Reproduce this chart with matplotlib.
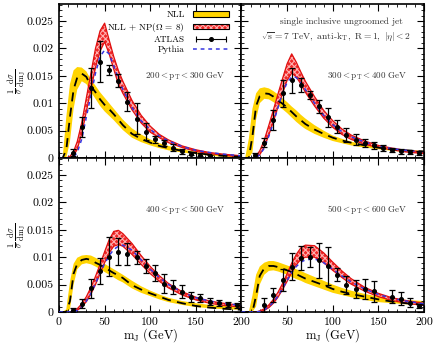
import numpy as np
import matplotlib
matplotlib.use('Agg')
import matplotlib.pyplot as plt
from matplotlib.patches import Patch
from matplotlib.lines import Line2D
from matplotlib.legend_handler import HandlerTuple, HandlerLine2D
from matplotlib.ticker import MultipleLocator, FixedLocator, FuncFormatter

plt.rcParams['font.family'] = 'serif'
plt.rcParams['font.serif'] = ['cmr10', 'DejaVu Serif']
plt.rcParams['mathtext.fontset'] = 'cm'
plt.rcParams['axes.formatter.use_mathtext'] = True
plt.rcParams['hatch.color'] = '#ffb0b0'
plt.rcParams['hatch.linewidth'] = 0.8

# ---------------- data ----------------
mj = [0, 4, 8, 12, 16, 20, 25, 30, 35, 40, 45, 50, 55, 60, 65, 70, 80, 90, 100, 110, 120, 135, 150, 165, 180, 200]

# panel 1: 200 < pT < 300 GeV
nll_hi_1 = [0, 0, 0.0075, 0.0135, 0.0160, 0.0166, 0.0165, 0.0158, 0.0143, 0.0132, 0.0120, 0.0110, 0.0100, 0.0090, 0.0080, 0.0070, 0.0054, 0.0043, 0.0034, 0.0027, 0.0022, 0.0016, 0.0011, 0.0008, 0.0006, 0.0003]
nll_c_1 = [0, 0, 0.0015, 0.0075, 0.0125, 0.0147, 0.0154, 0.0148, 0.0131, 0.0120, 0.0107, 0.0097, 0.0089, 0.0080, 0.0070, 0.0060, 0.0044, 0.0035, 0.0028, 0.0022, 0.0018, 0.0013, 0.0009, 0.0006, 0.0004, 0.0002]
nll_lo_1 = [0, 0, 0, 0.0030, 0.0090, 0.0125, 0.0140, 0.0135, 0.0120, 0.0108, 0.0095, 0.0085, 0.0077, 0.0069, 0.0060, 0.0051, 0.0037, 0.0029, 0.0023, 0.0018, 0.0014, 0.0010, 0.0007, 0.0004, 0.0002, 0.0001]
np_hi_1 = [0, 0, 0, 0.0003, 0.0012, 0.0030, 0.0065, 0.0110, 0.0155, 0.0200, 0.0232, 0.0246, 0.0215, 0.0185, 0.0160, 0.0140, 0.0105, 0.0078, 0.0058, 0.0043, 0.0033, 0.0022, 0.0015, 0.0010, 0.0007, 0.0004]
np_lo_1 = [0, 0, 0, 0, 0.0004, 0.0016, 0.0045, 0.0085, 0.0125, 0.0165, 0.0195, 0.0212, 0.0190, 0.0162, 0.0135, 0.0118, 0.0088, 0.0064, 0.0047, 0.0037, 0.0028, 0.0019, 0.0012, 0.0008, 0.0005, 0.0002]
py_1 = [0, 0, 0, 0, 0.0002, 0.0010, 0.0035, 0.0075, 0.0115, 0.0155, 0.0185, 0.0197, 0.0190, 0.0168, 0.0145, 0.0125, 0.0092, 0.0068, 0.0052, 0.0040, 0.0031, 0.0021, 0.0014, 0.0010, 0.0007, 0.0004]
atlas_x_1 = [15, 25, 35, 45, 55, 65, 75, 85, 95, 105, 115, 125, 135, 145, 155, 165]
atlas_y_1 = [0.0010, 0.0057, 0.0128, 0.0176, 0.0160, 0.0141, 0.0103, 0.0072, 0.0048, 0.0034, 0.0027, 0.0019, 0.0012, 0.0008, 0.0006, 0.0004]
atlas_e_1 = [0.0007, 0.0018, 0.0036, 0.0038, 0.0009, 0.0012, 0.0018, 0.0028, 0.0015, 0.0007, 0.0006, 0.0006, 0.0004, 0.0003, 0.0003, 0.0002]

# panel 2: 300 < pT < 400 GeV
nll_hi_2 = [0, 0, 0.0035, 0.0090, 0.0118, 0.0127, 0.0129, 0.0127, 0.0122, 0.0116, 0.0109, 0.0102, 0.0094, 0.0087, 0.0079, 0.0072, 0.0060, 0.0050, 0.0041, 0.0035, 0.0030, 0.0024, 0.0020, 0.0017, 0.0015, 0.0013]
nll_c_2 = [0, 0, 0, 0.0040, 0.0095, 0.0113, 0.0118, 0.0117, 0.0112, 0.0105, 0.0099, 0.0092, 0.0084, 0.0076, 0.0069, 0.0062, 0.0052, 0.0044, 0.0037, 0.0032, 0.0028, 0.0023, 0.0019, 0.0016, 0.0014, 0.0012]
nll_lo_2 = [0, 0, 0, 0.0010, 0.0070, 0.0100, 0.0108, 0.0107, 0.0102, 0.0096, 0.0089, 0.0082, 0.0074, 0.0066, 0.0059, 0.0053, 0.0044, 0.0037, 0.0031, 0.0027, 0.0023, 0.0019, 0.0016, 0.0013, 0.0011, 0.0010]
np_hi_2 = [0, 0, 0, 0, 0.0004, 0.0013, 0.0033, 0.0060, 0.0088, 0.0117, 0.0145, 0.0172, 0.0190, 0.0175, 0.0157, 0.0140, 0.0112, 0.0087, 0.0068, 0.0053, 0.0042, 0.0031, 0.0023, 0.0018, 0.0014, 0.0011]
np_lo_2 = [0, 0, 0, 0, 0.0001, 0.0006, 0.0020, 0.0042, 0.0067, 0.0093, 0.0118, 0.0142, 0.0155, 0.0148, 0.0135, 0.0120, 0.0095, 0.0073, 0.0056, 0.0043, 0.0034, 0.0025, 0.0019, 0.0015, 0.0011, 0.0008]
py_2 = [0, 0, 0, 0, 0.0001, 0.0006, 0.0018, 0.0040, 0.0065, 0.0092, 0.0118, 0.0138, 0.0148, 0.0147, 0.0137, 0.0125, 0.0100, 0.0078, 0.0061, 0.0048, 0.0039, 0.0029, 0.0022, 0.0017, 0.0014, 0.0011]
atlas_x_2 = [15, 25, 35, 45, 55, 65, 75, 85, 95, 105, 115, 125, 135, 145, 155, 165, 175, 185, 195]
atlas_y_2 = [0.0005, 0.0028, 0.0069, 0.0118, 0.0142, 0.0133, 0.0115, 0.0094, 0.0074, 0.0057, 0.0042, 0.0033, 0.0027, 0.0023, 0.0018, 0.0015, 0.0012, 0.0011, 0.0009]
atlas_e_2 = [0.0004, 0.0008, 0.0018, 0.0025, 0.0023, 0.0013, 0.0008, 0.0012, 0.0018, 0.0012, 0.0012, 0.0010, 0.0007, 0.0007, 0.0005, 0.0004, 0.0004, 0.0004, 0.0003]

# panel 3: 400 < pT < 500 GeV
nll_hi_3 = [0, 0, 0.0005, 0.0055, 0.0088, 0.0099, 0.0103, 0.0104, 0.0103, 0.0099, 0.0094, 0.0088, 0.0083, 0.0078, 0.0073, 0.0068, 0.0057, 0.0047, 0.0039, 0.0032, 0.0026, 0.0020, 0.0016, 0.0013, 0.0011, 0.0010]
nll_c_3 = [0, 0, 0, 0.0020, 0.0070, 0.0088, 0.0095, 0.0097, 0.0095, 0.0090, 0.0086, 0.0081, 0.0076, 0.0071, 0.0067, 0.0062, 0.0049, 0.0041, 0.0034, 0.0028, 0.0022, 0.0016, 0.0011, 0.0008, 0.0006, 0.0004]
nll_lo_3 = [0, 0, 0, 0.0005, 0.0050, 0.0078, 0.0087, 0.0089, 0.0087, 0.0083, 0.0078, 0.0073, 0.0068, 0.0063, 0.0058, 0.0054, 0.0043, 0.0035, 0.0029, 0.0023, 0.0018, 0.0013, 0.0009, 0.0007, 0.0005, 0.0004]
np_hi_3 = [0, 0, 0, 0, 0.0002, 0.0006, 0.0015, 0.0028, 0.0045, 0.0065, 0.0087, 0.0110, 0.0132, 0.0147, 0.0149, 0.0143, 0.0125, 0.0103, 0.0083, 0.0066, 0.0052, 0.0037, 0.0027, 0.0020, 0.0016, 0.0012]
np_lo_3 = [0, 0, 0, 0, 0.0000, 0.0003, 0.0009, 0.0019, 0.0033, 0.0050, 0.0070, 0.0090, 0.0108, 0.0120, 0.0123, 0.0120, 0.0105, 0.0087, 0.0070, 0.0056, 0.0044, 0.0031, 0.0022, 0.0016, 0.0012, 0.0009]
py_3 = [0, 0, 0, 0, 0, 0.0003, 0.0010, 0.0020, 0.0034, 0.0052, 0.0071, 0.0088, 0.0103, 0.0114, 0.0120, 0.0122, 0.0113, 0.0095, 0.0078, 0.0063, 0.0050, 0.0036, 0.0026, 0.0020, 0.0016, 0.0012]
atlas_x_3 = [15, 25, 35, 45, 55, 65, 75, 85, 95, 105, 115, 125, 135, 145, 155, 165, 175, 185, 195]
atlas_y_3 = [0.0004, 0.0015, 0.0043, 0.0075, 0.0101, 0.0110, 0.0105, 0.0100, 0.0084, 0.0071, 0.0052, 0.0045, 0.0037, 0.0028, 0.0025, 0.0019, 0.0016, 0.0014, 0.0012]
atlas_e_3 = [0.0004, 0.0008, 0.0018, 0.0023, 0.0035, 0.0025, 0.0020, 0.0012, 0.0012, 0.0015, 0.0018, 0.0013, 0.0012, 0.0009, 0.0007, 0.0006, 0.0005, 0.0004, 0.0004]

# panel 4: 500 < pT < 600 GeV
nll_hi_4 = [0, 0, 0, 0.0030, 0.0068, 0.0083, 0.0090, 0.0093, 0.0093, 0.0091, 0.0088, 0.0085, 0.0082, 0.0078, 0.0075, 0.0071, 0.0064, 0.0057, 0.0050, 0.0044, 0.0039, 0.0033, 0.0028, 0.0025, 0.0022, 0.0020]
nll_c_4 = [0, 0, 0, 0, 0.0030, 0.0066, 0.0080, 0.0084, 0.0084, 0.0082, 0.0079, 0.0076, 0.0073, 0.0069, 0.0065, 0.0061, 0.0055, 0.0049, 0.0042, 0.0037, 0.0033, 0.0028, 0.0023, 0.0019, 0.0016, 0.0013]
nll_lo_4 = [0, 0, 0, 0, 0.0010, 0.0050, 0.0068, 0.0075, 0.0076, 0.0074, 0.0071, 0.0068, 0.0064, 0.0060, 0.0057, 0.0053, 0.0047, 0.0041, 0.0035, 0.0031, 0.0027, 0.0022, 0.0018, 0.0016, 0.0014, 0.0012]
np_hi_4 = [0, 0, 0, 0, 0, 0.0002, 0.0006, 0.0013, 0.0023, 0.0036, 0.0052, 0.0070, 0.0089, 0.0105, 0.0117, 0.0122, 0.0121, 0.0108, 0.0091, 0.0075, 0.0061, 0.0045, 0.0034, 0.0026, 0.0021, 0.0016]
np_lo_4 = [0, 0, 0, 0, 0, 0.0000, 0.0003, 0.0008, 0.0016, 0.0027, 0.0041, 0.0056, 0.0072, 0.0086, 0.0096, 0.0100, 0.0100, 0.0090, 0.0076, 0.0063, 0.0051, 0.0038, 0.0028, 0.0021, 0.0016, 0.0012]
py_4 = [0, 0, 0, 0, 0, 0.0001, 0.0004, 0.0010, 0.0018, 0.0029, 0.0043, 0.0058, 0.0072, 0.0083, 0.0091, 0.0095, 0.0097, 0.0090, 0.0078, 0.0066, 0.0055, 0.0042, 0.0032, 0.0025, 0.0020, 0.0015]
atlas_x_4 = [25, 35, 45, 55, 65, 75, 85, 95, 105, 115, 125, 135, 145, 165, 175, 185, 195]
atlas_y_4 = [0.0013, 0.0031, 0.0058, 0.0083, 0.0099, 0.0101, 0.0094, 0.0084, 0.0068, 0.0049, 0.0042, 0.0042, 0.0038, 0.0028, 0.0024, 0.0017, 0.0011]
atlas_e_4 = [0.0013, 0.0013, 0.0020, 0.0025, 0.0022, 0.0018, 0.0032, 0.0035, 0.0012, 0.0016, 0.0016, 0.0018, 0.0019, 0.0012, 0.0012, 0.0008, 0.0003]

pt_labels = [r'$200 < \mathrm{p_T} < 300\ \mathrm{GeV}$',
             r'$300 < \mathrm{p_T} < 400\ \mathrm{GeV}$',
             r'$400 < \mathrm{p_T} < 500\ \mathrm{GeV}$',
             r'$500 < \mathrm{p_T} < 600\ \mathrm{GeV}$']
y_ticks = [0, 0.005, 0.01, 0.015, 0.02, 0.025]
x_ticks = [0, 50, 100, 150, 200]

YEL = '#ffd400'
RED = '#f02828'
RED_EDGE = '#e01010'
BLUE = '#3535e0'
HATCH = 'xxxxxx'

fig = plt.figure(figsize=(4.34, 3.46), dpi=100)
axs = fig.subplots(2, 2)
fig.subplots_adjust(left=59/434, right=424/434, bottom=1-312/346, top=1-4/346,
                    wspace=0, hspace=0)

panels = [
    (nll_lo_1, nll_c_1, nll_hi_1, np_lo_1, np_hi_1, py_1, atlas_x_1, atlas_y_1, atlas_e_1),
    (nll_lo_2, nll_c_2, nll_hi_2, np_lo_2, np_hi_2, py_2, atlas_x_2, atlas_y_2, atlas_e_2),
    (nll_lo_3, nll_c_3, nll_hi_3, np_lo_3, np_hi_3, py_3, atlas_x_3, atlas_y_3, atlas_e_3),
    (nll_lo_4, nll_c_4, nll_hi_4, np_lo_4, np_hi_4, py_4, atlas_x_4, atlas_y_4, atlas_e_4),
]

for i, (ax, p) in enumerate(zip(axs.flat, panels)):
    nlo, nc, nhi, plo, phi, py, ax_x, ax_y, ax_e = p
    ax.fill_between(mj, nlo, nhi, facecolor=YEL, linewidth=0, zorder=1)
    ax.fill_between(mj, plo, phi, facecolor=RED, hatch=HATCH, linewidth=0, zorder=2)
    ax.plot(mj, plo, color=RED_EDGE, lw=0.9, zorder=2.1)
    ax.plot(mj, phi, color=RED_EDGE, lw=0.9, zorder=2.1)
    ax.plot(mj, nc, color='k', lw=1.3, dashes=(5, 3.5), zorder=3)
    ax.plot(mj, py, color=BLUE, lw=1.1, dashes=(2.5, 2.5), zorder=4)
    ax.errorbar(ax_x, ax_y, yerr=ax_e, fmt='o', color='k', ms=2.6,
                elinewidth=0.9, capsize=2.2, capthick=0.9, zorder=5)
    ax.set_xlim(0, 200)
    ax.set_ylim(0, 0.0281)
    ax.xaxis.set_major_locator(FixedLocator(x_ticks))
    ax.xaxis.set_minor_locator(MultipleLocator(10))
    ax.yaxis.set_major_locator(FixedLocator(y_ticks))
    ax.yaxis.set_minor_locator(MultipleLocator(0.001))
    ax.yaxis.set_major_formatter(FuncFormatter(lambda v, pos: '0' if v == 0 else f'{v:g}'))
    if i == 3:
        ax.xaxis.set_major_formatter(FuncFormatter(lambda v, pos: '' if v == 0 else f'{v:g}'))
    else:
        ax.xaxis.set_major_formatter(FuncFormatter(lambda v, pos: f'{v:g}'))
    ax.tick_params(which='both', direction='in', top=True, right=True, labelsize=8.5, pad=4)
    ax.tick_params(which='major', length=5, width=0.8)
    ax.tick_params(which='minor', length=2.5, width=0.6)
    for s in ax.spines.values():
        s.set_linewidth(1.2)
    if i in (1, 3):
        ax.tick_params(labelleft=False)
    if i in (0, 1):
        ax.tick_params(labelbottom=False)
    ax.text(0.69, 0.532 if i < 2 else 0.667, pt_labels[i], transform=ax.transAxes,
            ha='center', va='center', fontsize=6.5, color='#333333')
    if i in (0, 2):
        ax.set_ylabel(r'$\frac{1}{\sigma}\,\frac{\mathrm{d}\sigma}{\mathrm{dm_J}}$', fontsize=8.5)
        ax.yaxis.set_label_coords(-0.17, 0.5)
    if i in (2, 3):
        ax.set_xlabel(r'$\mathrm{m_J\ (GeV)}$', fontsize=9)
        ax.xaxis.set_label_coords(0.5, -0.095)

ax2 = axs[0, 1]
ax2.text(0.546, 0.885, 'single inclusive ungroomed jet', transform=ax2.transAxes,
         ha='center', va='center', fontsize=6.8, color='#333333')
ax2.text(0.516, 0.784, r'$\sqrt{\mathrm{s}} = 7\ \mathrm{TeV},\ $anti-$\mathrm{k_T},\ \mathrm{R} = 1,\ |\eta| < 2$',
         transform=ax2.transAxes, ha='center', va='center', fontsize=6.9, color='#333333')

# legend
h_nll = Patch(facecolor=YEL, edgecolor='k', linewidth=0.8)
h_np_fill = Patch(facecolor=RED, hatch=HATCH, linewidth=0)
h_np_edge = Patch(facecolor='none', edgecolor='k', linewidth=0.8)
cap_h = Line2D([], [], color='k', lw=0.8, marker='|', ms=4, markeredgewidth=0.8)
dot_h = Line2D([], [], color='k', lw=0, marker='o', ms=2.6)
h_py = Line2D([], [], color=BLUE, lw=1.1, dashes=(2.5, 2.5))
ax1 = axs[0, 0]
ax1.legend([h_nll, (h_np_fill, h_np_edge), (cap_h, dot_h), h_py],
           ['NLL', r'NLL + NP($\Omega$ = 8)', 'ATLAS', 'Pythia'],
           handler_map={tuple: HandlerTuple(ndivide=1, pad=0),
                        cap_h: HandlerLine2D(numpoints=2)},
           loc='upper right', bbox_to_anchor=(0.93, 0.958), frameon=False,
           markerfirst=False, fontsize=6.6, handlelength=3.9, handleheight=0.6,
           handletextpad=0.9, labelspacing=0.2, borderpad=0, borderaxespad=0)

fig.savefig('out.png', dpi=100)
